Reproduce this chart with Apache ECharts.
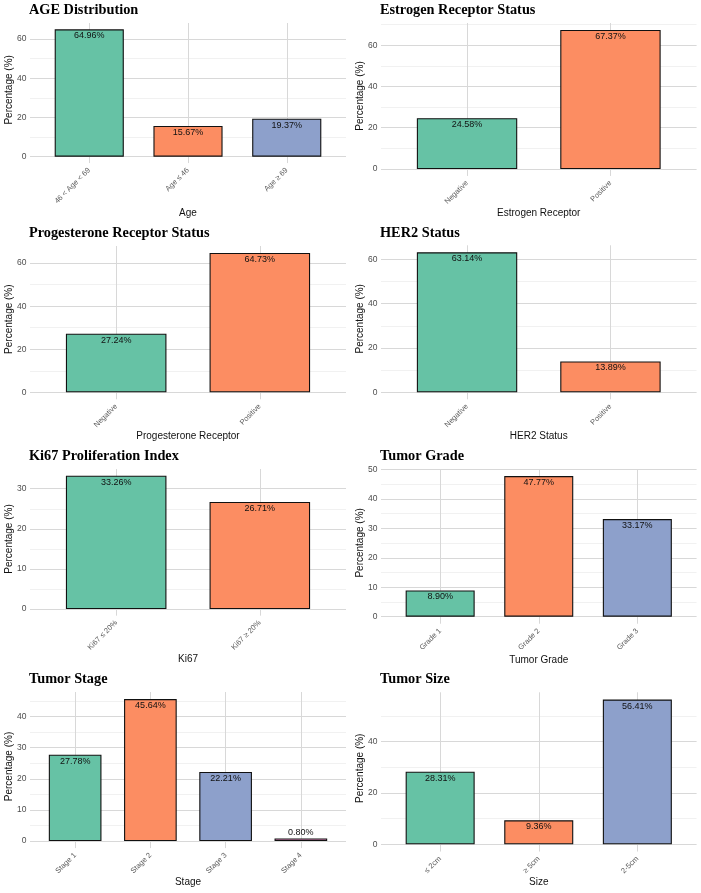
<!DOCTYPE html>
<html><head><meta charset="utf-8">
<script src="https://cdn.jsdelivr.net/npm/echarts@6/dist/echarts.min.js"></script>
<style>html,body{margin:0;padding:0;background:#fff}#c{width:701px;height:893px}</style>
</head><body><div id="c"></div>
<script>
// ---- data ----
const ageCategories = ['46 < Age < 69', 'Age ≤ 46', 'Age ≥ 69'];
const ageValues = [64.96, 15.67, 19.37];
const erCategories = ['Negative', 'Positive'];
const erValues = [24.58, 67.37];
const prCategories = ['Negative', 'Positive'];
const prValues = [27.24, 64.73];
const her2Categories = ['Negative', 'Positive'];
const her2Values = [63.14, 13.89];
const ki67Categories = ['Ki67 ≤ 20%', 'Ki67 ≥ 20%'];
const ki67Values = [33.26, 26.71];
const gradeCategories = ['Grade 1', 'Grade 2', 'Grade 3'];
const gradeValues = [8.90, 47.77, 33.17];
const stageCategories = ['Stage 1', 'Stage 2', 'Stage 3', 'Stage 4'];
const stageValues = [27.78, 45.64, 22.21, 0.80];
const sizeCategories = ['≤ 2cm', '≥ 5cm', '2-5cm'];
const sizeValues = [28.31, 9.36, 56.41];
const titles = ['AGE Distribution', 'Estrogen Receptor Status', 'Progesterone Receptor Status', 'HER2 Status',
  'Ki67 Proliferation Index', 'Tumor Grade', 'Tumor Stage', 'Tumor Size'];
const xTitles = ['Age', 'Estrogen Receptor', 'Progesterone Receptor', 'HER2 Status', 'Ki67', 'Tumor Grade', 'Stage', 'Size'];
const yTickSteps = [20, 20, 20, 20, 10, 10, 10, 20];
const yTitle = 'Percentage (%)';

const panels = [
  [ageCategories, ageValues], [erCategories, erValues], [prCategories, prValues], [her2Categories, her2Values],
  [ki67Categories, ki67Values], [gradeCategories, gradeValues], [stageCategories, stageValues], [sizeCategories, sizeValues]
];

// ---- layout (pixels) ----
const layout = [
  {left: 30, right: 346, top: 23, zero: 156.7, xNameY: 213, titleY: 10.5},
  {left: 381, right: 696.5, top: 23, zero: 169, xNameY: 213, titleY: 10.5},
  {left: 30, right: 346, top: 246, zero: 392.3, xNameY: 436.7, titleY: 234},
  {left: 381, right: 696.5, top: 245.3, zero: 392.3, xNameY: 436.7, titleY: 234},
  {left: 30, right: 346, top: 469, zero: 609, xNameY: 659.3, titleY: 456.5},
  {left: 381, right: 696.5, top: 469, zero: 616.7, xNameY: 660, titleY: 456.5},
  {left: 30, right: 346, top: 692, zero: 841, xNameY: 882.7, titleY: 680},
  {left: 381, right: 696.5, top: 692.3, zero: 844.3, xNameY: 882.7, titleY: 680}
];
const palette = ['#66C2A5', '#FC8D62', '#8DA0CB', '#E78AC3'];
const sans = 'Liberation Sans';
const gridColor = '#d8d8d8';
const minorColor = '#eeeeee';

const option = {animation: false, backgroundColor: '#fff', title: [], grid: [], xAxis: [], yAxis: [], series: []};

panels.forEach(([cats, vals], i) => {
  const L = layout[i];
  const n = cats.length;
  const M = Math.max(...vals);
  const yMax = M * 1.05;
  const plotH = L.zero - L.top;
  const ppu = plotH / yMax;
  const ext = 0.05 * M * ppu;
  const w = L.right - L.left;
  const u = w / (n + 0.2);
  const g = option.grid.length;
  option.grid.push({left: L.left, top: L.top, width: w, height: plotH, outerBoundsMode: 'none', containLabel: false});
  option.grid.push({left: L.left + 0.1 * u, top: L.top, width: n * u, height: plotH, outerBoundsMode: 'none', containLabel: false});
  option.grid.push({left: L.left - 0.4 * u, top: L.top, width: (n + 1) * u, height: plotH + ext, outerBoundsMode: 'none', containLabel: false});

  option.title.push({
    text: titles[i], left: L.left - 1, top: L.titleY - 7.5, padding: 0,
    textStyle: {fontFamily: 'Liberation Serif', fontWeight: 'bold', fontSize: 14.3, color: '#000'}
  });

  const xi = option.xAxis.length;
  const yi = option.yAxis.length;
  // grid H (horizontal grid lines + y labels)
  option.xAxis.push({type: 'value', gridIndex: g, position: 'bottom', min: 0, max: 1, show: false});
  // grid B (bars + category labels)
  option.xAxis.push({
    type: 'category', gridIndex: g + 1, position: 'bottom', data: cats,
    axisLine: {show: false}, axisTick: {show: false}, splitLine: {show: false},
    axisLabel: {interval: 0, rotate: 45, margin: ext + 6, fontSize: 7.5, color: '#5a5a5a', fontFamily: sans},
    name: xTitles[i], nameLocation: 'middle', nameGap: L.xNameY - L.zero - 5, nameMoveOverlap: false,
    nameTextStyle: {fontSize: 10, color: '#111', fontFamily: sans}
  });
  // grid V (vertical grid lines at category centres)
  option.xAxis.push({
    type: 'value', gridIndex: g + 2, position: 'bottom', min: 0, max: n + 1, interval: 1,
    axisLine: {show: false}, axisTick: {show: false}, axisLabel: {show: false},
    splitLine: {show: true, showMinLine: false, showMaxLine: false, lineStyle: {color: gridColor, width: 1}}
  });

  option.yAxis.push({
    type: 'value', gridIndex: g, position: 'left', min: 0, max: yMax, interval: yTickSteps[i] / 2,
    axisLine: {show: false}, axisTick: {show: false}, axisLabel: {show: false},
    splitLine: {show: true, showMaxLine: false, lineStyle: {color: minorColor, width: 0.8}}
  });
  option.yAxis.push({
    type: 'value', gridIndex: g, position: 'left', offset: 0, min: 0, max: yMax, interval: yTickSteps[i],
    axisLine: {show: false}, axisTick: {show: false},
    axisLabel: {margin: 3.5, fontSize: 8.5, color: '#4d4d4d', fontFamily: sans, showMaxLabel: false},
    splitLine: {show: true, showMaxLine: false, lineStyle: {color: gridColor, width: 1}},
    name: yTitle, nameLocation: 'middle', nameGap: 16, nameMoveOverlap: false,
    nameTextStyle: {fontSize: 10, color: '#111', fontFamily: sans}
  });
  option.yAxis.push({type: 'value', gridIndex: g + 1, position: 'left', min: 0, max: yMax, show: false});
  option.yAxis.push({type: 'value', gridIndex: g + 2, position: 'left', min: 0, max: 1, show: false});

  option.series.push({
    type: 'bar', xAxisIndex: xi + 1, yAxisIndex: yi + 2, barWidth: '70%',
    data: vals.map((v, j) => {
      const d = {value: v, itemStyle: {color: palette[j % palette.length]}};
      if (v * ppu < 12) d.label = {position: 'top', distance: 1};
      return d;
    }),
    itemStyle: {borderColor: '#111', borderWidth: 1.1},
    label: {
      show: true, position: 'insideTop', distance: 2, fontSize: 9, color: '#111', fontFamily: sans,
      formatter: p => p.value.toFixed(2) + '%'
    }
  });
});

const chart = echarts.init(document.getElementById('c'), null, {renderer: 'canvas'});
chart.setOption(option);
</script></body></html>
